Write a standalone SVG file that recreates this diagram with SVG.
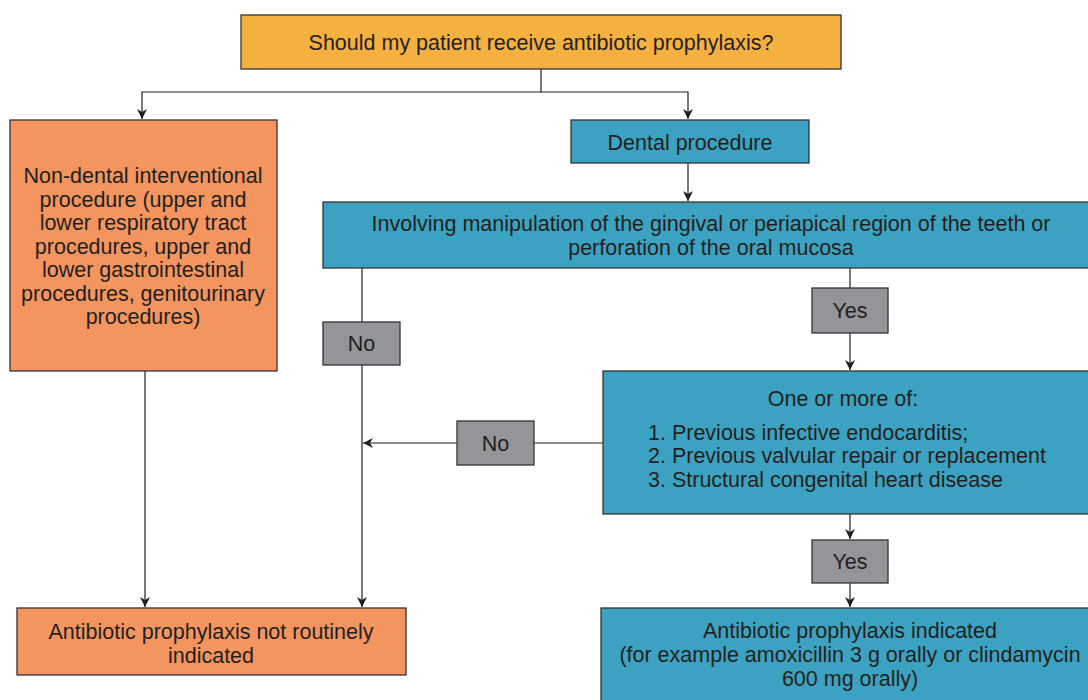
<svg xmlns="http://www.w3.org/2000/svg" width="1088" height="700" viewBox="0 0 1088 700">
<defs>
<marker id="arr" viewBox="0 0 10 10" refX="10" refY="5" markerWidth="10" markerHeight="10" markerUnits="userSpaceOnUse" orient="auto">
<path d="M0,0 L10,5 L0,10 L3,5 Z" fill="#231F20"/>
</marker>
<style>
.box{stroke:#333;stroke-width:1.3}
.y{fill:#F4B13F}.o{fill:#F4955F}.t{fill:#3BA3C1}.g{fill:#939598}
text{font-family:"Liberation Sans",Arial,sans-serif;font-size:21.5px;fill:#231F20}
.c{text-anchor:middle}
.ln{stroke:#231F20;stroke-width:1.2;fill:none}
</style>
</defs>
<rect width="1088" height="700" fill="#fff"/>
<g id="connectors">
<path class="ln" d="M541,69 V92 H142 V119" marker-end="url(#arr)"/>
<path class="ln" d="M541,92 H688 V119" marker-end="url(#arr)"/>
<path class="ln" d="M688,163 V201" marker-end="url(#arr)"/>
<path class="ln" d="M362,268 V322"/>
<path class="ln" d="M362,365 V607" marker-end="url(#arr)"/>
<path class="ln" d="M850,268 V288"/>
<path class="ln" d="M850,333 V370" marker-end="url(#arr)"/>
<path class="ln" d="M603,443 H534"/>
<path class="ln" d="M457,443 H363" marker-end="url(#arr)"/>
<path class="ln" d="M850,514 V539" marker-end="url(#arr)"/>
<path class="ln" d="M850,583 V607" marker-end="url(#arr)"/>
<path class="ln" d="M145,371 V607" marker-end="url(#arr)"/>
</g>
<g id="start">
<rect class="box y" x="241" y="15" width="600" height="54"/>
<text class="c" x="541" y="50">Should my patient receive antibiotic prophylaxis?</text>
</g>
<g id="nondental">
<rect class="box o" x="10" y="120" width="267" height="251"/>
<text class="c" x="143" y="183">Non-dental interventional</text>
<text class="c" x="143" y="206.5">procedure (upper and</text>
<text class="c" x="143" y="230">lower respiratory tract</text>
<text class="c" x="143" y="253.5">procedures, upper and</text>
<text class="c" x="143" y="277">lower gastrointestinal</text>
<text class="c" x="143" y="300.5">procedures, genitourinary</text>
<text class="c" x="143" y="324">procedures)</text>
</g>
<g id="dental">
<rect class="box t" x="571" y="120" width="238" height="43"/>
<text class="c" x="690" y="150">Dental procedure</text>
</g>
<g id="involving">
<rect class="box t" x="323" y="202" width="775" height="66"/>
<text class="c" x="711" y="231">Involving manipulation of the gingival or periapical region of the teeth or</text>
<text class="c" x="711" y="255">perforation of the oral mucosa</text>
</g>
<g id="no1">
<rect class="box g" x="323" y="322" width="77" height="43"/>
<text class="c" x="361.5" y="351">No</text>
</g>
<g id="yes1">
<rect class="box g" x="812" y="288" width="76" height="45"/>
<text class="c" x="850" y="318">Yes</text>
</g>
<g id="criteria">
<rect class="box t" x="603" y="371" width="495" height="143"/>
<text class="c" x="843" y="406">One or more of:</text>
<text x="648" y="440">1. Previous infective endocarditis;</text>
<text x="648" y="463">2. Previous valvular repair or replacement</text>
<text x="648" y="487">3. Structural congenital heart disease</text>
</g>
<g id="no2">
<rect class="box g" x="457" y="421" width="77" height="44"/>
<text class="c" x="495.5" y="451">No</text>
</g>
<g id="yes2">
<rect class="box g" x="812" y="540" width="76" height="43"/>
<text class="c" x="850" y="569">Yes</text>
</g>
<g id="notindicated">
<rect class="box o" x="17" y="608" width="389" height="67"/>
<text class="c" x="211" y="639">Antibiotic prophylaxis not routinely</text>
<text class="c" x="211" y="663">indicated</text>
</g>
<g id="indicated">
<rect class="box t" x="601" y="608" width="497" height="100"/>
<text class="c" x="850" y="638">Antibiotic prophylaxis indicated</text>
<text class="c" x="850" y="662">(for example amoxicillin 3 g orally or clindamycin</text>
<text class="c" x="850" y="686">600 mg orally)</text>
</g>
</svg>
